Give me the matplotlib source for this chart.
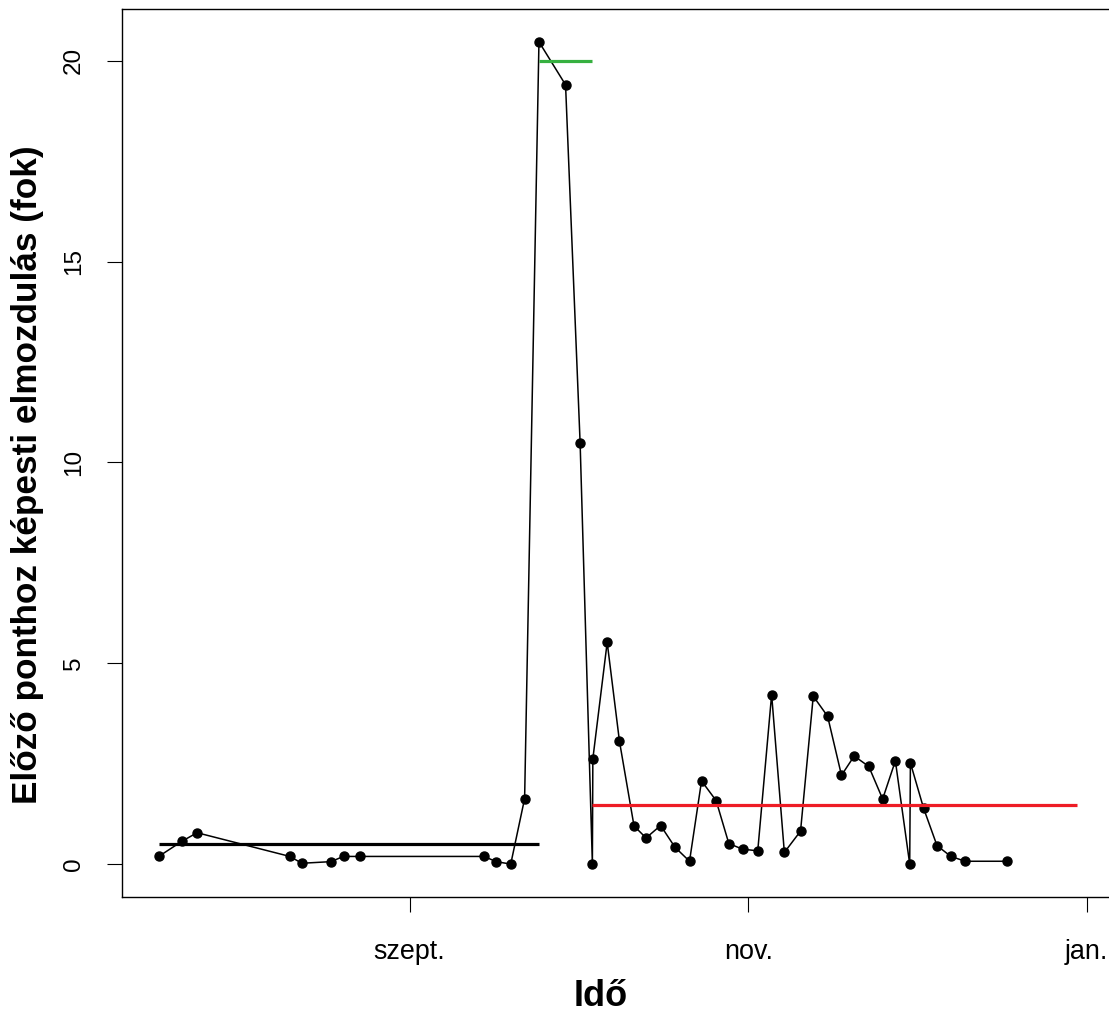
import matplotlib
matplotlib.use('Agg')
import matplotlib.pyplot as plt
import matplotlib.dates as mdates
from matplotlib.ticker import FuncFormatter
import pandas as pd

plt.rcParams['font.family'] = ['Liberation Sans', 'DejaVu Sans']

# Mérési időpontok és elmozdulások (fok)
idopontok = [
    '2019-07-17 19:00', '2019-07-22 00:00', '2019-07-24 17:00', '2019-08-10 10:00',
    '2019-08-12 14:00', '2019-08-17 19:00', '2019-08-20 02:00', '2019-08-23 00:00',
    '2019-09-14 10:00', '2019-09-16 14:00', '2019-09-19 05:00', '2019-09-21 17:00',
    '2019-09-24 07:00', '2019-09-29 02:00', '2019-10-01 17:00', '2019-10-03 22:00',
    '2019-10-04 00:00', '2019-10-06 14:00', '2019-10-08 19:00', '2019-10-11 10:00',
    '2019-10-13 14:00', '2019-10-16 05:00', '2019-10-18 19:00', '2019-10-21 10:00',
    '2019-10-23 14:00', '2019-10-26 05:00', '2019-10-28 12:00', '2019-10-31 00:00',
    '2019-11-02 17:00', '2019-11-05 05:00', '2019-11-07 12:00', '2019-11-10 10:00',
    '2019-11-12 17:00', '2019-11-15 07:00', '2019-11-17 19:00', '2019-11-20 02:00',
    '2019-11-22 17:00', '2019-11-25 05:00', '2019-11-27 12:00', '2019-11-30 02:00',
    '2019-11-30 05:00', '2019-12-02 14:00', '2019-12-05 00:00', '2019-12-07 12:00',
    '2019-12-10 02:00', '2019-12-17 14:00',
]
elmozdulas = [
    0.19, 0.57, 0.78, 0.19, 0.02, 0.06, 0.19, 0.19, 0.19, 0.06, 0.0, 1.63,
    20.47, 19.4, 10.48, 0.0, 2.62, 5.52, 3.06, 0.95, 0.65, 0.96, 0.42, 0.07,
    2.07, 1.58, 0.51, 0.37, 0.33, 4.22, 0.29, 0.82, 4.18, 3.68, 2.21, 2.69,
    2.43, 1.62, 2.57, 0.0, 2.52, 1.39, 0.46, 0.19, 0.07, 0.07,
]

# Szakaszok átlagai (kezdet, vég, érték, szín)
szakasz_kezdet = ['2019-07-17 19:00', '2019-09-24 07:00', '2019-10-03 22:00']
szakasz_veg = ['2019-09-24 07:00', '2019-10-03 22:00', '2019-12-30 05:00']
szakasz_atlag = [0.5, 20.0, 1.48]
szakasz_szin = ['black', '#36b040', '#ee1c25']

honap_cimkek = {9: 'szept.', 11: 'nov.', 1: 'jan.'}
y_tickek = [0, 5, 10, 15, 20]

t = pd.to_datetime(idopontok)

fig = plt.figure(figsize=(11.09, 10.15), dpi=100)
ax = fig.add_axes([0.110, 0.1163, 0.8942, 0.8749])

ax.plot(t, elmozdulas, color='black', lw=1.1, marker='o', markersize=6.5, zorder=2)

for k, v, a, c in zip(szakasz_kezdet, szakasz_veg, szakasz_atlag, szakasz_szin):
    ax.hlines(a, pd.Timestamp(k), pd.Timestamp(v), colors=c, lw=2.3, zorder=3)

ax.margins(x=0.04, y=0.04)

ax.xaxis.set_major_locator(mdates.MonthLocator(bymonth=[9, 11, 1]))
ax.xaxis.set_major_formatter(FuncFormatter(lambda x, pos: honap_cimkek.get(mdates.num2date(x).month, '')))
ax.set_yticks(y_tickek)

ax.tick_params(axis='x', direction='out', length=11, width=0.8, labelsize=19.4, pad=19)
ax.tick_params(axis='y', direction='out', length=11, width=0.8, labelsize=17.5, pad=15.5, labelrotation=90)
for lab in ax.get_yticklabels():
    lab.set_va('center')

for s in ax.spines.values():
    s.set_linewidth(1.0)

fig.text(28 / 1109, 1 - 474.5 / 1015, 'Előző ponthoz képesti elmozdulás (fok)',
         rotation=90, ha='center', va='center', fontsize=25.3, fontweight='bold')
fig.text(601 / 1109, 1 - 1013.5 / 1015, 'Idő', ha='center', va='bottom',
         fontsize=26, fontweight='bold')

fig.savefig('out.png', dpi=100)
